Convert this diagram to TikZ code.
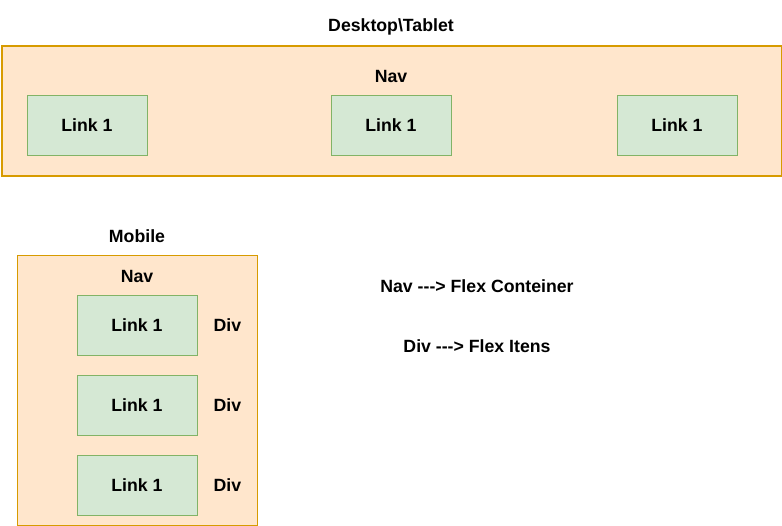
\documentclass[tikz,border=0pt]{standalone}
\usepackage{fontspec}
\setmainfont{Liberation Sans}
\usetikzlibrary{positioning}
\definecolor{navfill}{HTML}{FFE6CC}
\definecolor{navline}{HTML}{D79B00}
\definecolor{linkfill}{HTML}{D5E8D4}
\definecolor{linkline}{HTML}{82B366}
\newcommand{\arrowtext}{\mbox{-}\mbox{-}\mbox{-}\mbox{>}}
\begin{document}
\begin{tikzpicture}[x=1pt, y=-1pt,
    font=\fontsize{17.7}{20}\selectfont\bfseries,
    navbox/.style={draw=navline, fill=navfill, inner sep=0pt, anchor=north west},
    linkbox/.style={draw=linkline, fill=linkfill, line width=1pt,
        minimum width=120pt, minimum height=60pt, inner sep=0pt},
    label/.style={inner sep=0pt}
]
    \useasboundingbox (0,0) rectangle (782,526);
    % Desktop
    \node [navbox,
        line width=2pt,
        minimum width=780pt,
        minimum height=130pt
    ] (DeskNav) at (1,45) {};
    \node [label] (DeskTitle) at (391,26.5) {Desktop\textbackslash Tablet};
    \node [label] (DeskNavText) at (391,76.5) {Nav};
    \node [linkbox] (DeskLink1) at (87,125.5) {Link 1};
    \node [linkbox] (DeskLink2) at (391,125.5) {Link 1};
    \node [linkbox] (DeskLink3) at (677,125.5) {Link 1};
    % Mobile
    \node [navbox,
        line width=1pt,
        minimum width=240pt,
        minimum height=270pt
    ] (MobNav) at (17,255) {};
    \node [label] (MobTitle) at (137,236.5) {Mobile};
    \node [label] (MobNavText) at (137,276.5) {Nav};
    \foreach \i/\y in {1/325.5, 2/405.5, 3/485.5} {
        \node [linkbox] (MobLink\i) at (137,\y) {Link 1};
        \node [label, right=16pt of MobLink\i] (MobDiv\i) {Div};
    }
    % Legend
    \node [label] (LegendNav) at (477,286.5) {Nav \arrowtext{} Flex Conteiner};
    \node [label] (LegendDiv) at (477,346.5) {Div \arrowtext{} Flex Itens};
\end{tikzpicture}
\end{document}
